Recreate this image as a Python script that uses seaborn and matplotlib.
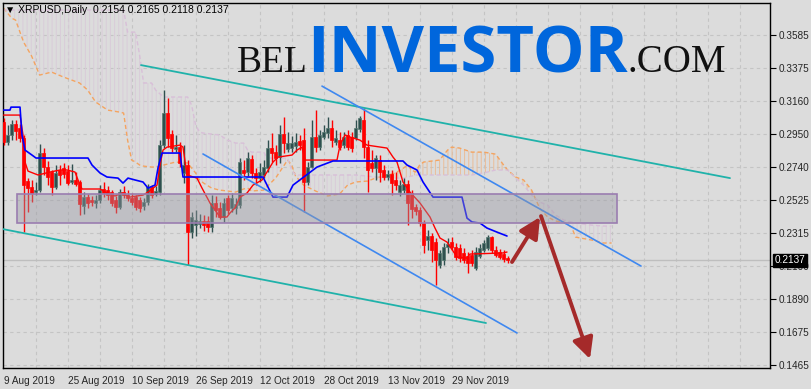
import numpy as np
import pandas as pd
import matplotlib
matplotlib.use("Agg")
import matplotlib.pyplot as plt
import seaborn as sns
from matplotlib.patches import Rectangle
from matplotlib.transforms import blended_transform_factory

# ---------------- data ----------------
symbol_title = "XRPUSD,Daily  0.2154 0.2165 0.2118 0.2137"
date_tick_labels = ["9 Aug 2019", "25 Aug 2019", "10 Sep 2019", "26 Sep 2019",
                    "12 Oct 2019", "28 Oct 2019", "13 Nov 2019", "29 Nov 2019"]
price_ticks = [0.3585, 0.3375, 0.3160, 0.2950, 0.2740, 0.2525, 0.2315,
               0.2100, 0.1890, 0.1675, 0.1465]
last_price = 0.2137

opens = [0.3026, 0.2897, 0.2943, 0.3013, 0.2988, 0.2923, 0.2647, 0.2609, 0.2576, 0.2589,
         0.2827, 0.2737, 0.2705, 0.2609, 0.2718, 0.2731, 0.2711, 0.2641, 0.2654, 0.2641,
         0.2487, 0.2544, 0.2525, 0.2506, 0.2525, 0.2596, 0.2589, 0.2576, 0.2525, 0.2480,
         0.2576, 0.2557, 0.2538, 0.2544, 0.2525, 0.2487, 0.2512, 0.2609, 0.2564, 0.2576,
         0.2878, 0.3084, 0.2949, 0.2852, 0.2865, 0.2699, 0.2750, 0.2319, 0.2364, 0.2371,
         0.2390, 0.2390, 0.2351, 0.2506, 0.2474, 0.2416, 0.2538, 0.2474, 0.2474, 0.2493,
         0.2718, 0.2705, 0.2788, 0.2699, 0.2666, 0.2686, 0.2731, 0.2859, 0.2833, 0.2801,
         0.2949, 0.2852, 0.2859, 0.2872, 0.2904, 0.2910, 0.2641, 0.2737, 0.2930, 0.2865,
         0.2930, 0.2955, 0.2988, 0.2897, 0.2910, 0.2878, 0.2943, 0.2930, 0.2923, 0.2981,
         0.3039, 0.2865, 0.2763, 0.2731, 0.2782, 0.2718, 0.2673, 0.2692, 0.2654, 0.2576,
         0.2589, 0.2628, 0.2570, 0.2480, 0.2461, 0.2377, 0.2268, 0.2294, 0.2255, 0.2107,
         0.2140, 0.2223, 0.2255, 0.2223, 0.2217, 0.2185, 0.2165, 0.2172, 0.2088, 0.2165,
         0.2204, 0.2217, 0.2287, 0.2204, 0.2191, 0.2178, 0.2154]
highs = [0.3052, 0.3007, 0.3039, 0.3039, 0.3013, 0.2943, 0.2666, 0.2654, 0.2641, 0.2885,
         0.2859, 0.2776, 0.2718, 0.2750, 0.2750, 0.2763, 0.2750, 0.2756, 0.2705, 0.2654,
         0.2576, 0.2564, 0.2551, 0.2557, 0.2621, 0.2641, 0.2615, 0.2589, 0.2551, 0.2596,
         0.2615, 0.2589, 0.2570, 0.2557, 0.2544, 0.2538, 0.2628, 0.2621, 0.2615, 0.2910,
         0.3232, 0.3180, 0.2975, 0.2943, 0.2897, 0.2878, 0.2782, 0.2448, 0.2461, 0.2435,
         0.2429, 0.2422, 0.2557, 0.2551, 0.2512, 0.2538, 0.2557, 0.2570, 0.2538, 0.2795,
         0.2782, 0.2833, 0.2814, 0.2731, 0.2763, 0.2782, 0.2910, 0.2955, 0.2878, 0.3007,
         0.3058, 0.2962, 0.2936, 0.2955, 0.2943, 0.2988, 0.2769, 0.3039, 0.3103, 0.2975,
         0.3007, 0.3058, 0.3039, 0.2975, 0.2962, 0.2962, 0.2975, 0.2962, 0.3039, 0.3065,
         0.3116, 0.2910, 0.2846, 0.2814, 0.2814, 0.2750, 0.2718, 0.2718, 0.2705, 0.2654,
         0.2666, 0.2654, 0.2589, 0.2499, 0.2480, 0.2397, 0.2332, 0.2313, 0.2281, 0.2204,
         0.2249, 0.2281, 0.2287, 0.2249, 0.2242, 0.2217, 0.2191, 0.2204, 0.2223, 0.2242,
         0.2268, 0.2300, 0.2294, 0.2230, 0.2210, 0.2204, 0.2165]
lows = [0.2878, 0.2878, 0.2910, 0.2910, 0.2897, 0.2319, 0.2448, 0.2512, 0.2557, 0.2576,
        0.2686, 0.2621, 0.2557, 0.2596, 0.2621, 0.2666, 0.2621, 0.2628, 0.2615, 0.2429,
        0.2435, 0.2474, 0.2487, 0.2474, 0.2506, 0.2544, 0.2525, 0.2487, 0.2442, 0.2467,
        0.2538, 0.2519, 0.2493, 0.2461, 0.2448, 0.2461, 0.2493, 0.2538, 0.2551, 0.2557,
        0.2859, 0.2865, 0.2833, 0.2833, 0.2737, 0.2634, 0.2107, 0.2281, 0.2294, 0.2345,
        0.2326, 0.2319, 0.2319, 0.2416, 0.2403, 0.2384, 0.2435, 0.2448, 0.2435, 0.2474,
        0.2654, 0.2679, 0.2666, 0.2621, 0.2641, 0.2666, 0.2705, 0.2769, 0.2750, 0.2763,
        0.2827, 0.2833, 0.2833, 0.2833, 0.2846, 0.2448, 0.2621, 0.2731, 0.2833, 0.2846,
        0.2917, 0.2923, 0.2865, 0.2878, 0.2846, 0.2859, 0.2846, 0.2833, 0.2910, 0.2962,
        0.2795, 0.2576, 0.2705, 0.2654, 0.2641, 0.2654, 0.2654, 0.2557, 0.2589, 0.2551,
        0.2570, 0.2364, 0.2409, 0.2429, 0.2358, 0.2185, 0.2204, 0.2127, 0.1979, 0.2088,
        0.2107, 0.2185, 0.2204, 0.2140, 0.2127, 0.2120, 0.2056, 0.2101, 0.2075, 0.2152,
        0.2191, 0.2204, 0.2185, 0.2159, 0.2146, 0.2127, 0.2118]
closes = [0.2897, 0.2943, 0.3013, 0.2968, 0.2923, 0.2621, 0.2602, 0.2570, 0.2589, 0.2827,
          0.2737, 0.2673, 0.2609, 0.2699, 0.2686, 0.2692, 0.2634, 0.2654, 0.2628, 0.2499,
          0.2544, 0.2506, 0.2512, 0.2525, 0.2589, 0.2570, 0.2557, 0.2506, 0.2480, 0.2576,
          0.2557, 0.2538, 0.2512, 0.2480, 0.2474, 0.2512, 0.2609, 0.2557, 0.2583, 0.2878,
          0.3084, 0.2923, 0.2859, 0.2865, 0.2763, 0.2750, 0.2319, 0.2416, 0.2397, 0.2390,
          0.2364, 0.2351, 0.2506, 0.2461, 0.2416, 0.2506, 0.2461, 0.2538, 0.2499, 0.2769,
          0.2699, 0.2795, 0.2699, 0.2666, 0.2705, 0.2737, 0.2859, 0.2827, 0.2795, 0.2949,
          0.2891, 0.2891, 0.2891, 0.2897, 0.2878, 0.2641, 0.2737, 0.2930, 0.2865, 0.2943,
          0.2962, 0.2988, 0.2910, 0.2923, 0.2865, 0.2930, 0.2865, 0.2859, 0.2988, 0.3052,
          0.2865, 0.2718, 0.2731, 0.2795, 0.2705, 0.2673, 0.2692, 0.2634, 0.2621, 0.2621,
          0.2628, 0.2506, 0.2467, 0.2455, 0.2377, 0.2236, 0.2294, 0.2204, 0.2140, 0.2185,
          0.2223, 0.2242, 0.2223, 0.2159, 0.2152, 0.2140, 0.2120, 0.2120, 0.2191, 0.2217,
          0.2249, 0.2287, 0.2204, 0.2172, 0.2159, 0.2146, 0.2137]

# Ichimoku lines (bar index, price)
tenkan_x = [0, 4.1, 4.85, 5.35, 6.1, 8.6, 11.6, 14.1, 15.85, 17.85, 18.6, 19.6, 24.1, 25.85,
            27.85, 29.6, 31.6, 34.85, 36.1, 38.35, 39.1, 39.85, 40.85, 44.1, 44.85, 45.85,
            48.35, 49.6, 51.6, 54.1, 55.85, 56.6, 57.85, 59.1, 60.85, 62.35, 64.6, 65.85,
            67.35, 68.6, 72.1, 73.35, 74.6, 75.35, 83.35, 84.1, 85.35, 86.6, 89.1, 90.85,
            95.85, 97.35, 98.35, 99.85, 101.6, 104.1, 106.6, 107.85, 109.1, 110.85, 113.35,
            115.85, 116.6, 124.85, 125.85]
tenkan_v = [0.3071, 0.3071, 0.2943, 0.2769, 0.2711, 0.2686, 0.2705, 0.2718, 0.2718, 0.2705,
            0.2654, 0.2596, 0.2596, 0.2570, 0.2551, 0.2570, 0.2544, 0.2557, 0.2576, 0.2621,
            0.2750, 0.2846, 0.2865, 0.2878, 0.2865, 0.2686, 0.2666, 0.2602, 0.2506, 0.2416,
            0.2416, 0.2442, 0.2474, 0.2544, 0.2570, 0.2621, 0.2654, 0.2705, 0.2769, 0.2801,
            0.2814, 0.2846, 0.2865, 0.2782, 0.2782, 0.2878, 0.2943, 0.2930, 0.2910, 0.2878,
            0.2859, 0.2801, 0.2769, 0.2641, 0.2576, 0.2506, 0.2416, 0.2345, 0.2281, 0.2255,
            0.2159, 0.2152, 0.2178, 0.2185, 0.2191]
kijun_x = [0, 1.6, 1.85, 4.1, 4.6, 5.35, 7.1, 8.1, 21.1, 22.1, 24.1, 25.85, 28.6, 29.85,
           31.1, 32.85, 34.85, 36.1, 37.85, 38.6, 39.6, 44.1, 44.85, 64.85, 67.35, 70.85,
           72.35, 78.35, 82.35, 99.85, 100.85, 103.35, 104.85, 107.35, 114.6, 115.85, 117.1,
           119.1, 120.85, 123.35, 125.85]
kijun_v = [0.3103, 0.3103, 0.3122, 0.3122, 0.2943, 0.2846, 0.2814, 0.2795, 0.2795, 0.2750,
           0.2699, 0.2673, 0.2666, 0.2634, 0.2666, 0.2654, 0.2641, 0.2602, 0.2621, 0.2731,
           0.2827, 0.2827, 0.2673, 0.2673, 0.2544, 0.2544, 0.2621, 0.2737, 0.2776, 0.2776,
           0.2750, 0.2718, 0.2641, 0.2544, 0.2544, 0.2409, 0.2384, 0.2377, 0.2345, 0.2319,
           0.2294]
cloud_x = [0, 2, 3, 5, 7, 9, 12, 15, 19, 21, 23, 26, 29, 30, 31, 32, 33, 34, 35, 37, 38, 40,
           43, 46, 47, 48, 49, 50, 52, 54, 56, 58, 60, 61, 62, 65, 66, 68, 71, 72, 73, 75, 78,
           81, 84, 86, 88, 91, 93, 96, 98, 100, 101, 102, 103, 104, 105, 109, 111, 112, 114,
           117, 120, 123, 125, 126, 128, 130, 132, 134, 136, 138, 140, 142, 143, 147, 150, 152]
span_a = [0.3758, 0.3694, 0.3681, 0.3540, 0.3450, 0.3328, 0.3347, 0.3315, 0.3277, 0.3232,
          0.3155, 0.3103, 0.3090, 0.3084, 0.2910, 0.2782, 0.2769, 0.2750, 0.2743, 0.2737,
          0.2737, 0.2750, 0.2769, 0.2763, 0.2731, 0.2699, 0.2654, 0.2634, 0.2602, 0.2589,
          0.2583, 0.2576, 0.2596, 0.2602, 0.2583, 0.2589, 0.2615, 0.2666, 0.2782, 0.2750,
          0.2679, 0.2621, 0.2583, 0.2551, 0.2564, 0.2621, 0.2641, 0.2647, 0.2666, 0.2686,
          0.2699, 0.2731, 0.2750, 0.2718, 0.2705, 0.2750, 0.2769, 0.2782, 0.2846, 0.2865,
          0.2859, 0.2833, 0.2833, 0.2820, 0.2750, 0.2718, 0.2673, 0.2654, 0.2589, 0.2474,
          0.2416, 0.2390, 0.2384, 0.2351, 0.2287, 0.2268, 0.2249, 0.2249]
span_b = [0.3746, 0.3746, 0.3746, 0.3746, 0.3746, 0.3746, 0.3746, 0.3746, 0.3746, 0.3746,
          0.3746, 0.3746, 0.3746, 0.3746, 0.3604, 0.3604, 0.3604, 0.3457, 0.3277, 0.3277,
          0.3232, 0.3187, 0.3187, 0.3187, 0.3135, 0.3007, 0.2962, 0.2955, 0.2949, 0.2943,
          0.2910, 0.2891, 0.2891, 0.2846, 0.2833, 0.2833, 0.2795, 0.2795, 0.2795, 0.2718,
          0.2686, 0.2686, 0.2686, 0.2686, 0.2686, 0.2686, 0.2686, 0.2679, 0.2673, 0.2666,
          0.2666, 0.2666, 0.2673, 0.2679, 0.2686, 0.2686, 0.2686, 0.2686, 0.2686, 0.2686,
          0.2686, 0.2686, 0.2699, 0.2718, 0.2718, 0.2718, 0.2666, 0.2621, 0.2557, 0.2512,
          0.2493, 0.2429, 0.2397, 0.2384, 0.2377, 0.2364, 0.2358, 0.2358]

# drawn objects (bar index, price)
support_zone_x = [3.35, 153.35]
support_zone_v = [0.2377, 0.2564]
teal_upper_x, teal_upper_v = [34.35, 181.6], [0.3392, 0.2666]
teal_lower_x, teal_lower_v = [-0.3, 120.6], [0.2339, 0.1735]
blue_upper_x, blue_upper_v = [79.6, 159.35], [0.3257, 0.2101]
blue_lower_x, blue_lower_v = [49.85, 128.35], [0.2821, 0.1671]
arrow_up_x, arrow_up_v = [127.1, 134.1], [0.2127, 0.2416]
arrow_down_x, arrow_down_v = [134.35, 146.6], [0.2422, 0.1504]

# ---------------- style ----------------
sns.set_theme(style="white")
plt.rcParams['font.family'] = ['Liberation Sans', 'DejaVu Sans']
plt.rcParams['hatch.linewidth'] = 0.7
BG = '#DCDCDC'

W, H = 811, 389
fig = plt.figure(figsize=(W / 100, H / 100), dpi=100)
fig.patch.set_facecolor(BG)
ax = fig.add_axes([2.5 / W, 21 / H, (770 - 2.5) / W, 365 / H])
ax.set_facecolor(BG)
ax.set_xlim(-0.275, 191.6)
ax.set_ylim(0.1446, 0.3791)

# ticks and grid
ax.set_xticks(np.arange(0, 16 * len(date_tick_labels), 16))
ax.set_xticklabels(date_tick_labels, fontsize=7.2, ha='left')
ax.set_xticks(np.arange(0, 192, 8), minor=True)
ax.set_yticks(price_ticks)
ax.set_yticklabels([f"{p:.4f}" for p in price_ticks], fontsize=7.2)
ax.yaxis.tick_right()
ax.tick_params(axis='x', which='major', length=4, width=0.8, color='black', pad=2,
               direction='out')
ax.tick_params(axis='x', which='minor', length=0)
ax.tick_params(axis='y', length=4, width=0.8, color='black', pad=2, direction='out')
ax.grid(False)
gridkw = dict(color='#C4C4C4', lw=0.8, ls=(0, (3, 3)), zorder=0.5)
for xg in np.arange(8, 192, 8):
    ax.axvline(xg, **gridkw)
for yg in price_ticks:
    ax.axhline(yg, **gridkw)
for s in ax.spines.values():
    s.set_color('black')
    s.set_linewidth(1.0)

# cloud
cx = np.array(cloud_x, float)
sa = np.array(span_a)
sb = np.array(span_b)
ax.fill_between(cx, sa, sb, where=sa >= sb, interpolate=True, facecolor='none',
                edgecolor='#EABD98', hatch='||||', linewidth=0, zorder=1)
ax.fill_between(cx, sa, sb, where=sa < sb, interpolate=True, facecolor='none',
                edgecolor='#D9CCD9', hatch='||||', linewidth=0, zorder=1)
cloud_df = pd.DataFrame({'x': cx, 'a': sa, 'b': sb})
sns.lineplot(data=cloud_df, x='x', y='a', ax=ax, color='#F4A460', lw=1.0,
             sort=False, estimator=None, zorder=1.5).lines[-1].set_linestyle((0, (3, 2)))
sns.lineplot(data=cloud_df, x='x', y='b', ax=ax, color='#D8BFD8', lw=1.0,
             sort=False, estimator=None, zorder=1.5).lines[-1].set_linestyle((0, (3, 2)))

# price line
ax.axhline(last_price, color='#BEBEBE', lw=1.0, zorder=0.8)

# candles
o = np.array(opens); h = np.array(highs); l = np.array(lows); c = np.array(closes)
xi = np.arange(len(o))
bull = c >= o
BULL, BEAR = '#2F4F4F', '#FF0000'
cols = np.where(bull, BULL, BEAR)
ax.vlines(xi, l, h, colors=cols, lw=1.0, zorder=3)
body_lo = np.minimum(o, c)
body_h = np.maximum(np.abs(c - o), 0.0007)
ax.bar(xi, body_h, bottom=body_lo, width=0.72, color=cols,
       edgecolor=np.where(bull, '#557a70', '#FF0000'), linewidth=0.5, zorder=3.2)

# tenkan / kijun
sns.lineplot(x=tenkan_x, y=tenkan_v, ax=ax, color='#FF0000', lw=1.0, sort=False,
             estimator=None, zorder=4)
sns.lineplot(x=kijun_x, y=kijun_v, ax=ax, color='#0000FF', lw=1.2, sort=False,
             estimator=None, zorder=4)

# trend lines
sns.lineplot(x=teal_upper_x, y=teal_upper_v, ax=ax, color='#20B2AA', lw=1.3, zorder=4.5)
sns.lineplot(x=teal_lower_x, y=teal_lower_v, ax=ax, color='#20B2AA', lw=1.3, zorder=4.5)
sns.lineplot(x=blue_upper_x, y=blue_upper_v, ax=ax, color='#3F88F0', lw=1.2, zorder=4.5)
sns.lineplot(x=blue_lower_x, y=blue_lower_v, ax=ax, color='#3F88F0', lw=1.2, zorder=4.5)

# support zone
ax.add_patch(Rectangle((support_zone_x[0], support_zone_v[0]),
                       support_zone_x[1] - support_zone_x[0],
                       support_zone_v[1] - support_zone_v[0],
                       facecolor=(0.60, 0.60, 0.64, 0.42), edgecolor='#9A7DB0',
                       lw=1.2, zorder=5))

# arrows
for axs, avs in [(arrow_up_x, arrow_up_v), (arrow_down_x, arrow_down_v)]:
    ax.annotate('', xy=(axs[1], avs[1]), xytext=(axs[0], avs[0]),
                arrowprops=dict(arrowstyle='-|>,head_length=0.9,head_width=0.45',
                                color='#A52A2A', lw=2.8, mutation_scale=14,
                                shrinkA=0, shrinkB=0), zorder=6)

ax.set_xlabel(''); ax.set_ylabel('')
leg = ax.get_legend()
if leg:
    leg.remove()

# last price tag
tr = blended_transform_factory(ax.transAxes, ax.transData)
ax.text(1.006, last_price, f"{last_price:.4f}", transform=tr, fontsize=7.2,
        color='white', va='center', ha='left', zorder=20, clip_on=False,
        bbox=dict(boxstyle='square,pad=0.15', facecolor='black', edgecolor='black'))

# title
fig.text(5 / W, 1 - 10 / H, "\u25BC " + symbol_title, fontsize=7.5, va='center',
         ha='left', color='black', family=['Liberation Sans', 'DejaVu Sans'], zorder=20)

# watermark
base = 1 - 72.5 / H
fig.text(237 / W, base, "BEL", fontsize=27, family='Liberation Serif', color='#111111',
         va='baseline', ha='left')
fig.text(307 / W, base, "INVESTOR", fontsize=47, family='Open Sans', weight='bold',
         color='#0066DC', va='baseline', ha='left')
fig.text(627 / W, base, ".COM", fontsize=28, family='Liberation Serif', color='#111111',
         va='baseline', ha='left')

fig.savefig('out.png', dpi=100, facecolor=BG)
